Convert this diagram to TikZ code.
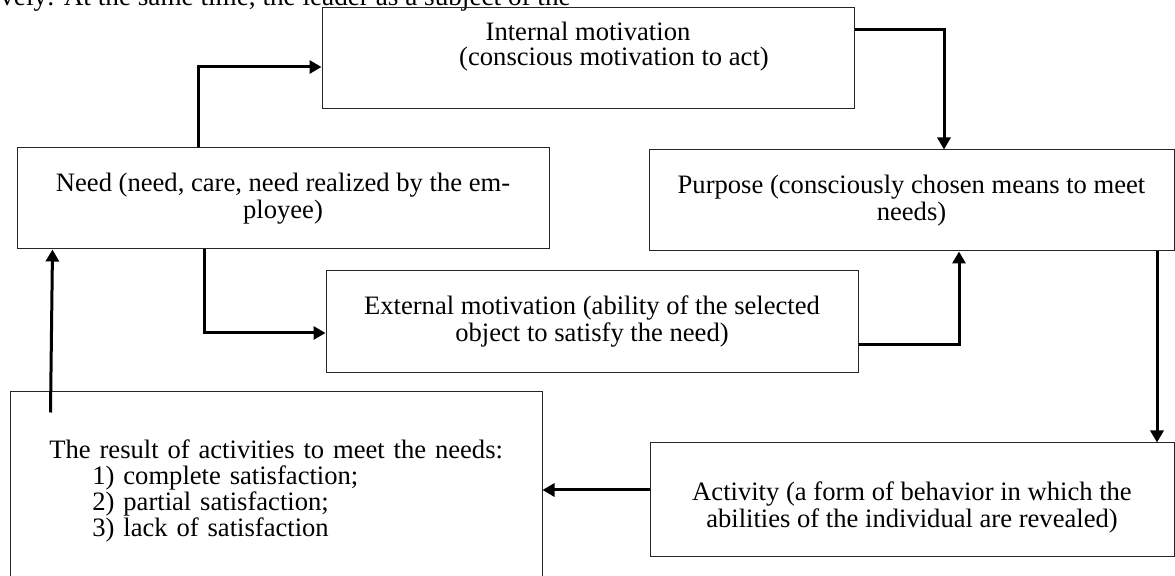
\documentclass[tikz,border=0pt]{standalone}
\usepackage{fontspec}
\setmainfont{Liberation Serif}
\usetikzlibrary{calc,arrows.meta}

\tikzset{
  stage/.style={draw=black!85, line width=0.5pt, rectangle, align=center, inner sep=0pt},
  flow/.style={line width=1.5pt, -{Triangle[length=6pt,width=6.5pt]}},
}

\begin{document}
\begin{tikzpicture}[x=0.5pt, y=-0.5pt, font=\fontsize{13.3pt}{13.5pt}\selectfont]
    \useasboundingbox (0,0) rectangle (1175,576);

    % line of the page text above the scheme
    \node[anchor=base west, inner sep=0pt, font=\fontsize{13.6pt}{14pt}\selectfont] (bodyline) at (0,6) {vely: At the same time, the leader as a subject of the};

    \node[stage, minimum width=266pt, minimum height=50.5pt] (intm) at (588,58.5) {};
    \node[align=center, inner sep=0pt, font=\fontsize{13.3pt}{12.5pt}\selectfont] (intmtext) at (588,47) {Internal motivation\\\hspace*{26pt}(conscious motivation to act)};

    \node[stage, minimum width=266pt, minimum height=50.5pt] (need) at (283,198.5) {Need (need, care, need realized by the em-\\ployee)};
    \node[stage, minimum width=262.5pt, minimum height=50.5pt] (purp) at (911.5,200.5) {Purpose (consciously chosen means to meet\\needs)};
    \node[stage, minimum width=266pt, minimum height=51pt] (extm) at (592,322) {External motivation (ability of the selected\\object to satisfy the need)};
    \node[stage, minimum width=262pt, minimum height=57pt] (act) at (912,500) {};
    \node[align=center, inner sep=0pt] (acttext) at (912,507) {Activity (a form of behavior in which the\\abilities of the individual are revealed)};
    \node[stage, minimum width=266pt, minimum height=94pt] (res) at (276,486) {};
    \node[anchor=west, align=left, inner sep=0pt, text width=227pt,
          font=\fontsize{13.3pt}{13pt}\selectfont] (restext) at (49,491)
          {The result of activities to meet the needs:\\
           \hspace*{21.5pt}1) complete satisfaction;\\
           \hspace*{21.5pt}2) partial satisfaction;\\
           \hspace*{21.5pt}3) lack of satisfaction};

    % connectors
    \draw[flow] ([xshift=-42.5pt]need.north) |- ([yshift=-4.25pt]intm.west);
    \draw[flow] ([yshift=14.25pt]intm.east) -| ([xshift=16.25pt]purp.north);
    \draw[flow] ([xshift=-39.5pt]need.south) |- ([yshift=-5.5pt]extm.west);
    \draw[flow] ([yshift=-11.5pt]extm.east) -| ([xshift=23.75pt]purp.south);
    \coordinate (pa) at ([xshift=122.75pt]purp.south);
    \draw[flow] (pa) -- (pa |- act.north);
    \coordinate (ar) at ([yshift=5pt]act.west);
    \draw[flow] (ar) -- (ar -| res.east);
    \draw[flow] ($(res.north west)+(41,21)$) -- ($(need.south west)+(36,0)$);
\end{tikzpicture}
\end{document}
